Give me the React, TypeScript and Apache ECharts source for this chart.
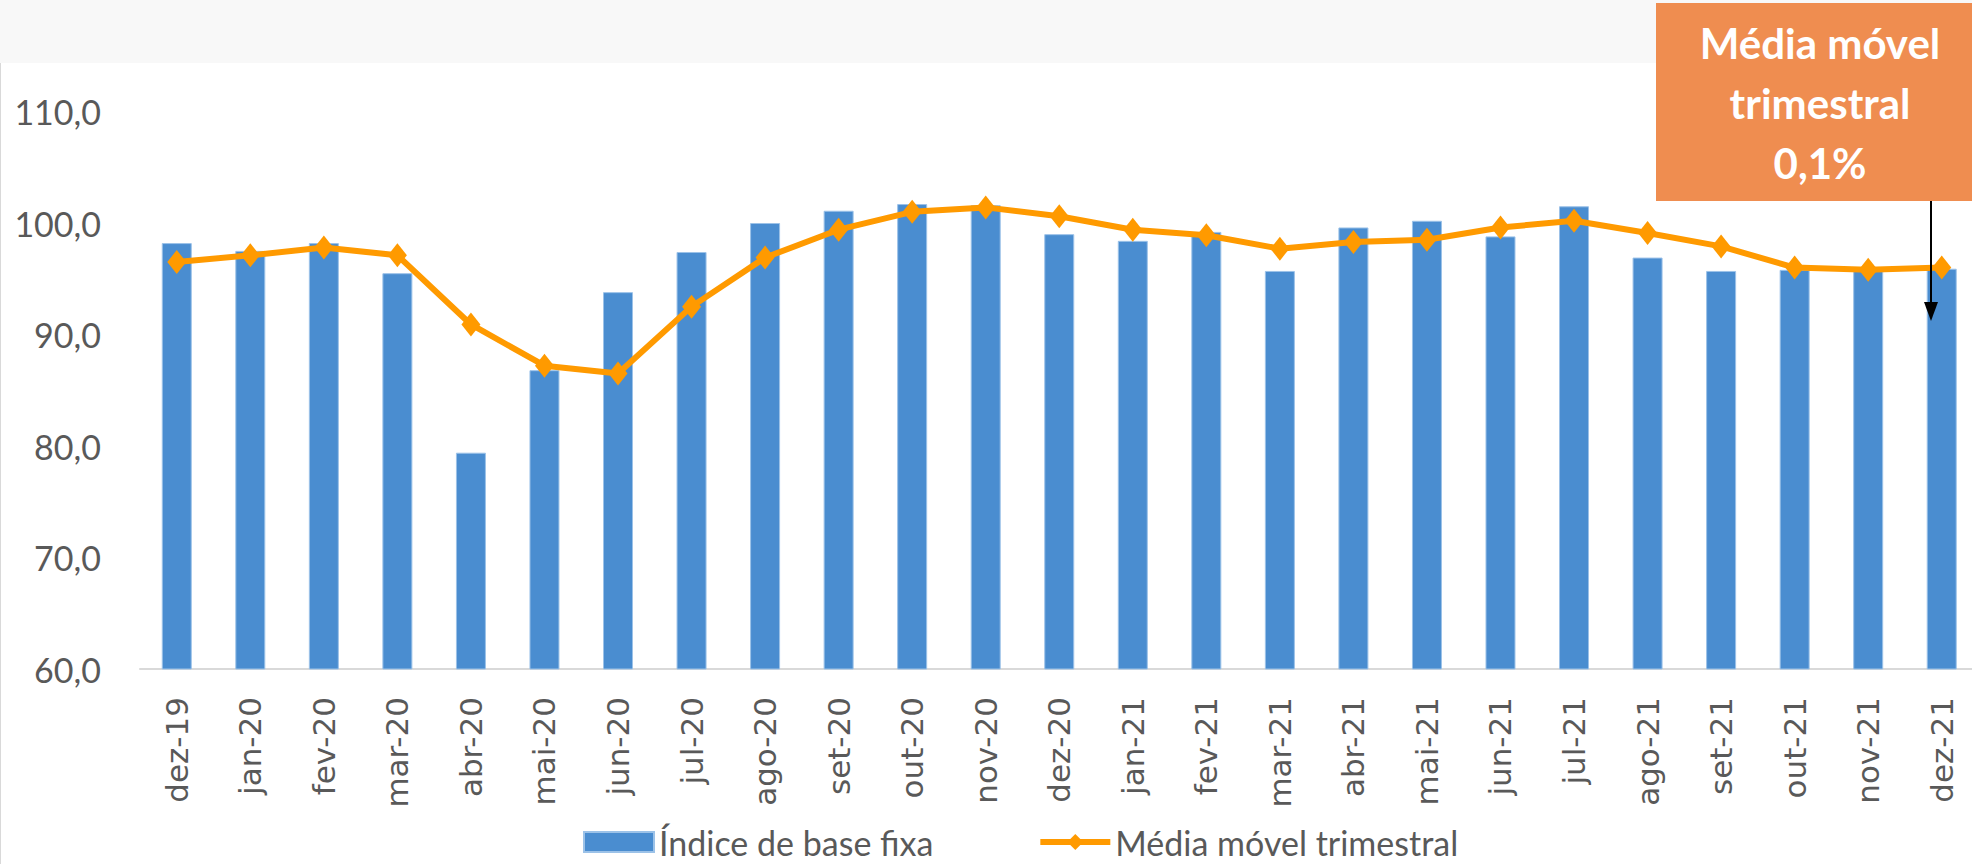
import React, { useEffect, useRef } from "react";
import * as echarts from "echarts";

const categories = [
  "dez-19", "jan-20", "fev-20", "mar-20", "abr-20", "mai-20", "jun-20", "jul-20",
  "ago-20", "set-20", "out-20", "nov-20", "dez-20", "jan-21", "fev-21", "mar-21",
  "abr-21", "mai-21", "jun-21", "jul-21", "ago-21", "set-21", "out-21", "nov-21", "dez-21",
];

const indiceBaseFixa = [
  98.2, 97.5, 98.2, 95.5, 79.4, 86.8, 93.8, 97.4,
  100.0, 101.1, 101.7, 101.6, 99.0, 98.4, 99.2, 95.7,
  99.6, 100.2, 98.8, 101.5, 96.9, 95.7, 95.8, 95.8, 95.9,
];

const mediaMovel = [
  96.5, 97.1, 97.8, 97.1, 90.9, 87.2, 86.5, 92.5,
  96.9, 99.4, 101.0, 101.4, 100.6, 99.4, 98.9, 97.7,
  98.3, 98.5, 99.6, 100.2, 99.1, 97.9, 96.0, 95.8, 96.0,
];

const seriesNames = ["Índice de base fixa", "Média móvel trimestral"];
const annotationLines = ["Média móvel", "trimestral", "0,1%"];

export default function App() {
  const ref = useRef<HTMLDivElement>(null);

  useEffect(() => {
    if (!ref.current) return;
    const chart = echarts.init(ref.current, undefined, { renderer: "svg" });
    chart.setOption({
      animation: false,
      backgroundColor: "#ffffff",
      grid: { left: 140, right: 1.5, top: 111.5, bottom: 195, containLabel: false },
      legend: {
        left: 578,
        top: 820,
        itemWidth: 70,
        itemHeight: 20,
        itemGap: 104,
        textStyle: { fontFamily: "Lato", fontSize: 34, color: "#595959", lineHeight: 34 },
        data: [
          { name: seriesNames[0], icon: "rect" },
          { name: seriesNames[1], lineStyle: { width: 6 } },
        ],
      },
      xAxis: {
        type: "category",
        data: categories,
        axisLine: { show: true, lineStyle: { color: "#d9d9d9", width: 2 } },
        axisTick: { show: false },
        axisLabel: {
          rotate: 90,
          margin: 28,
          fontFamily: "DejaVu Sans",
          fontSize: 31,
          color: "#595959",
          interval: 0,
        },
      },
      yAxis: {
        type: "value",
        min: 60,
        max: 110,
        interval: 10,
        axisLine: { show: false },
        axisTick: { show: false },
        splitLine: { show: false },
        axisLabel: {
          margin: 39,
          fontFamily: "Lato",
          fontSize: 34,
          color: "#595959",
          formatter: (v: number) => v.toFixed(1).replace(".", ","),
        },
      },
      series: [
        {
          name: seriesNames[0],
          type: "bar",
          data: indiceBaseFixa,
          barWidth: 30,
          itemStyle: { color: "#4A8DD0", borderColor: "#9cc2e8", borderWidth: 1 },
        },
        {
          name: seriesNames[1],
          type: "line",
          data: mediaMovel,
          symbol: "diamond",
          symbolSize: [19, 24],
          lineStyle: { color: "#FF9A00", width: 6 },
          itemStyle: { color: "#FF9A00" },
          z: 5,
        },
      ],
      graphic: [
        { type: "rect", z: -10, shape: { x: 0, y: 0, width: 1980, height: 63 }, style: { fill: "#f8f8f8" } },
        { type: "line", z: -10, shape: { x1: 0.5, y1: 63, x2: 0.5, y2: 864 }, style: { stroke: "#d9d9d9", lineWidth: 1 } },
        { type: "rect", z: 100, shape: { x: 1656, y: 3, width: 330, height: 198 }, style: { fill: "#EF8D50" } },
        ...annotationLines.map((t, i) => ({
          type: "text",
          z: 101,
          x: 1820,
          y: 43 + i * 60,
          style: {
            text: t,
            fill: "#ffffff",
            fontFamily: "Lato",
            fontWeight: "bold",
            fontSize: 42,
            textAlign: "center",
            textVerticalAlign: "middle",
          },
        })),
        { type: "line", z: 101, shape: { x1: 1931, y1: 201, x2: 1931, y2: 306 }, style: { stroke: "#000000", lineWidth: 2 } },
        { type: "polygon", z: 101, shape: { points: [[1924, 302], [1938, 302], [1931, 321]] }, style: { fill: "#000000" } },
      ],
    });
    return () => chart.dispose();
  }, []);

  return (
    <div style={{ position: "fixed", left: 0, top: 0, width: 1972, height: 864, overflow: "hidden", background: "#fff" }}>
      <div ref={ref} style={{ width: 1980, height: 864 }} />
    </div>
  );
}
